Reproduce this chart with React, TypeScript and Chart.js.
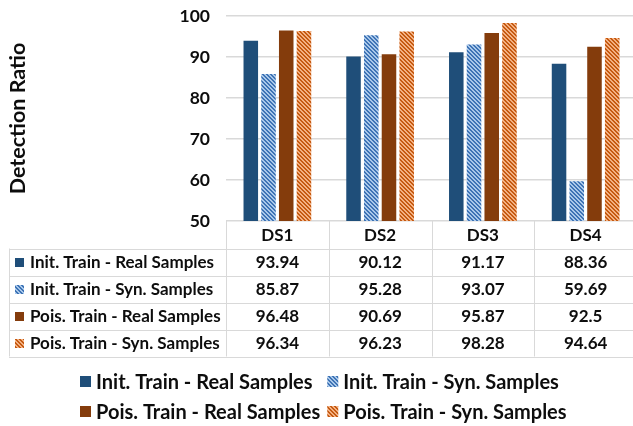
import React, { useEffect, useRef } from 'react';
import { Chart, registerables } from 'chart.js';

Chart.register(...registerables);

const categories = ['DS1', 'DS2', 'DS3', 'DS4'];
const seriesNames = [
  'Init. Train - Real Samples',
  'Init. Train - Syn. Samples',
  'Pois. Train - Real Samples',
  'Pois. Train - Syn. Samples',
];
const initReal = [93.94, 90.12, 91.17, 88.36];
const initSyn = [85.87, 95.28, 93.07, 59.69];
const poisReal = [96.48, 90.69, 95.87, 92.5];
const poisSyn = [96.34, 96.23, 98.28, 94.64];
const yMin = 50;
const yMax = 100;
const yStep = 10;
const yTitle = 'Detection Ratio';

const FONT = 'Lato, "Open Sans", sans-serif';
const TEXT = '#0d0d0d';
const GRID = '#D9D9D9';

function makePattern(ctx: CanvasRenderingContext2D, bg: string, fg: string) {
  const c = document.createElement('canvas');
  c.width = 4;
  c.height = 4;
  const g = c.getContext('2d')!;
  g.fillStyle = bg;
  g.fillRect(0, 0, 4, 4);
  g.fillStyle = fg;
  for (let y = 0; y < 4; y++)
    for (let x = 0; x < 4; x++)
      if ((((x - y) % 4) + 4) % 4 < 2) g.fillRect(x, y, 1, 1);
  return ctx.createPattern(c, 'repeat')!;
}

export default function App() {
  const ref = useRef<HTMLCanvasElement>(null);

  useEffect(() => {
    const canvas = ref.current!;
    const ctx = canvas.getContext('2d')!;
    const fills: any[] = [
      '#1F4E79',
      makePattern(ctx, '#A9C8EA', '#3E73B5'),
      '#843C0C',
      makePattern(ctx, '#F4B183', '#C55A11'),
    ];
    const seriesData = [initReal, initSyn, poisReal, poisSyn];

    const tablePlugin = {
      id: 'dataTableLegend',
      afterDraw(chart: any) {
        const c: CanvasRenderingContext2D = chart.ctx;
        const area = chart.chartArea;
        const xs = chart.scales.x;
        const left = area.left;
        const right = area.right;
        const colW = (right - left) / categories.length;
        const top = area.bottom;
        const headerH = 27.5;
        const rowH = 27;
        const tableLeft = 9;
        const rowsTop = top + headerH;
        const bottom = rowsTop + rowH * seriesNames.length;

        c.save();
        c.strokeStyle = GRID;
        c.lineWidth = 1;
        const hline = (x1: number, x2: number, y: number) => {
          const yy = Math.round(y) + 0.5;
          c.beginPath();
          c.moveTo(x1, yy);
          c.lineTo(x2, yy);
          c.stroke();
        };
        const vline = (x: number, y1: number, y2: number) => {
          const xx = Math.round(x) + 0.5;
          c.beginPath();
          c.moveTo(xx, y1);
          c.lineTo(xx, y2);
          c.stroke();
        };
        for (let i = 0; i <= seriesNames.length; i++) hline(tableLeft, right, rowsTop + i * rowH);
        vline(tableLeft, rowsTop, bottom);
        for (let j = 0; j <= categories.length; j++) vline(left + j * colW, top, bottom);

        c.fillStyle = TEXT;
        c.font = `bold 17px ${FONT}`;
        c.textBaseline = 'middle';
        c.textAlign = 'center';
        categories.forEach((cat, j) => c.fillText(cat, xs.getPixelForValue(j), top + headerH / 2 + 1));

        seriesNames.forEach((name, i) => {
          const cy = rowsTop + i * rowH + rowH / 2 + 1;
          c.fillStyle = fills[i];
          c.fillRect(15, Math.round(cy - 5), 9, 9);
          c.fillStyle = TEXT;
          c.textAlign = 'left';
          c.fillText(name, 30, cy);
          c.textAlign = 'center';
          seriesData[i].forEach((v, j) => c.fillText(String(v), xs.getPixelForValue(j), cy));
        });

        // legend
        c.font = `bold 20px ${FONT}`;
        const w1 = Math.max(c.measureText(seriesNames[0]).width, c.measureText(seriesNames[2]).width);
        const w2 = Math.max(c.measureText(seriesNames[1]).width, c.measureText(seriesNames[3]).width);
        const box = 11;
        const gap = 5;
        const colGap = 7;
        const total = box + gap + w1 + colGap + box + gap + w2;
        const startX = Math.round(323 - total / 2);
        const col2X = startX + box + gap + w1 + colGap;
        const rowYs = [bottom + 25, bottom + 55];
        seriesNames.forEach((name, i) => {
          const bx = i % 2 === 0 ? startX : col2X;
          const cy = rowYs[Math.floor(i / 2)];
          c.fillStyle = fills[i];
          c.fillRect(bx, Math.round(cy - 5.5), box, box);
          c.fillStyle = TEXT;
          c.textAlign = 'left';
          c.fillText(name, bx + box + gap, cy + 1);
        });
        c.restore();
      },
    };

    const chart = new Chart(canvas, {
      type: 'bar',
      data: {
        labels: categories,
        datasets: seriesNames.map((name, i) => ({
          label: name,
          data: seriesData[i],
          backgroundColor: fills[i],
          borderWidth: 0,
          categoryPercentage: 0.69,
          barPercentage: 0.82,
        })),
      },
      options: {
        responsive: false,
        animation: false,
        devicePixelRatio: 1,
        layout: { padding: { top: 16, right: 0, left: 0, bottom: 0 } },
        plugins: {
          legend: { display: false },
          tooltip: { enabled: false },
        },
        scales: {
          x: {
            ticks: { display: false },
            grid: { display: false, drawTicks: false },
            border: { display: false },
            afterFit: (s: any) => {
              s.height = 205;
            },
          },
          y: {
            min: yMin,
            max: yMax,
            ticks: {
              stepSize: yStep,
              padding: 0,
              color: TEXT,
              font: { family: FONT, size: 17.5, weight: 'bold' },
            },
            grid: {
              color: GRID,
              lineWidth: 1.5,
              drawTicks: true,
              tickLength: 16,
              tickColor: 'rgba(0,0,0,0)',
            },
            border: { display: false },
            title: {
              display: true,
              text: yTitle,
              color: TEXT,
              font: { family: FONT, size: 21.5, weight: 'bold' },
              padding: { top: 5, bottom: 0 },
            },
            afterFit: (s: any) => {
              s.width = 226;
            },
          },
        },
      },
      plugins: [tablePlugin],
    } as any);

    return () => chart.destroy();
  }, []);

  return (
    <div
      style={{
        position: 'fixed',
        left: 0,
        top: 0,
        width: 633,
        height: 426,
        overflow: 'hidden',
        background: '#fff',
      }}
    >
      <canvas ref={ref} width={637} height={426} style={{ display: 'block', width: 637, height: 426 }} />
    </div>
  );
}
